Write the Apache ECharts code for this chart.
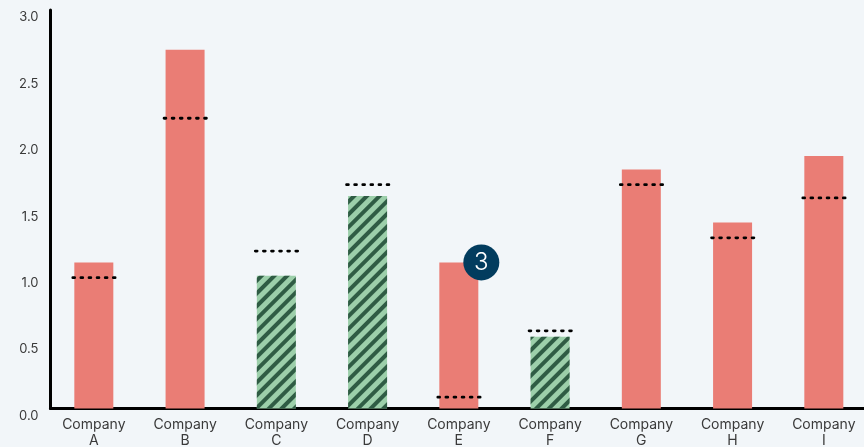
<!DOCTYPE html>
<html><head><meta charset="utf-8">
<style>html,body{margin:0;padding:0;background:#f2f6f9}#c{width:864px;height:447px}</style>
<script src="https://cdn.jsdelivr.net/npm/echarts@6/dist/echarts.min.js"></script>
</head><body><div id="c"></div>
<script>
const categories = ["Company A","Company B","Company C","Company D","Company E","Company F","Company G","Company H","Company I"];
const actual = [1.1,2.7,1.0,1.6,1.1,0.54,1.8,1.4,1.9];
const target = [1.0,2.2,1.2,1.7,0.1,0.6,1.7,1.3,1.6];
const hatched = ["Company C","Company D","Company F"];
const badgeCategory = "Company E";
const badgeText = "3";
const FONT = '"Inter","Open Sans",sans-serif';
const chart = echarts.init(document.getElementById('c'), null, {renderer:'canvas'});
const stripes = {symbol:'rect', color:'#2f5c44', dashArrayX:[1,0], dashArrayY:[4,5], rotation:-Math.PI/4, symbolSize:1};
chart.setOption({
  backgroundColor:'#f2f6f9',
  animation:false,
  grid:[
    {left:48.2, width:821.25, top:10, height:398.5, outerBoundsMode:'none'},
    {left:50.5, right:0, top:10, height:398.5, outerBoundsMode:'none'}
  ],
  xAxis:[
    {type:'category', gridIndex:0, data:categories, axisLine:{show:false}, axisTick:{show:false},
     axisLabel:{interval:0, margin:8, color:'#3a3a3a', fontFamily:FONT, fontSize:14, lineHeight:16,
       formatter:v=>v.replace(' ','\n')}},
    {type:'category', gridIndex:1, data:[''], axisLine:{lineStyle:{color:'#000',width:3}}, axisTick:{show:false}, axisLabel:{show:false}}
  ],
  yAxis:[
    {type:'value', gridIndex:0, min:0, max:3, interval:0.5, show:false, splitLine:{show:false}},
    {type:'value', gridIndex:1, min:0, max:3, interval:0.5, splitLine:{show:false}, axisTick:{show:false},
     axisLine:{show:true, lineStyle:{color:'#000',width:3}},
     axisLabel:{margin:12, color:'#3a3a3a', fontFamily:FONT, fontSize:13, lineHeight:15, verticalAlign:'top', showMinLabel:true, showMaxLabel:true,
       formatter:v=>v.toFixed(1)}}
  ],
  series:[
    {type:'bar', xAxisIndex:0, yAxisIndex:0, barWidth:39,
     data:actual.map((v,i)=>hatched.includes(categories[i])
       ? {value:v, itemStyle:{color:'#9ccfaa', decal:stripes}}
       : {value:v, itemStyle:{color:'#ea7d75'}})},
    {type:'custom', xAxisIndex:0, yAxisIndex:0, z:5,
     data:target.map((v,i)=>[i,v]),
     renderItem:(p,api)=>{
       const c=api.coord([api.value(0),api.value(1)]);
       const y=c[1]+2;
       return {type:'line', shape:{x1:c[0]-21,y1:y,x2:c[0]+21.3,y2:y},
         style:{stroke:'#000',lineWidth:2.8,lineDash:[1.8,6.3],lineCap:'round'}};
     }},
    {type:'scatter', xAxisIndex:0, yAxisIndex:0, z:6, symbol:'circle', symbolSize:36, symbolOffset:[22.5,0],
     itemStyle:{color:'#023c5e',opacity:1},
     label:{show:true, position:'inside', formatter:badgeText, color:'#fff', fontFamily:FONT, fontSize:24, fontWeight:300},
     data:[[categories.indexOf(badgeCategory), actual[categories.indexOf(badgeCategory)]]]}
  ]
});
</script></body></html>
